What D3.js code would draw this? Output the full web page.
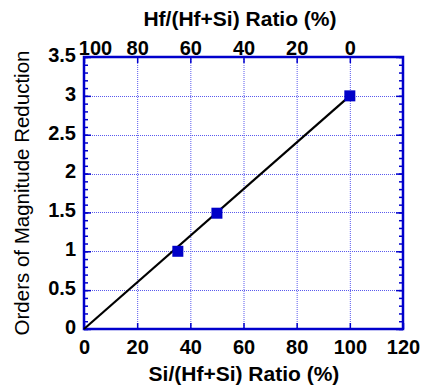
<!DOCTYPE html>
<html>
<head>
<meta charset="utf-8">
<script src="https://cdn.jsdelivr.net/npm/d3@7"></script>
<style>
  body { margin: 0; background: #fff; }
  text { font-family: "Liberation Sans", Arial, sans-serif; fill: #000; }
  .tick text { font-size: 20px; font-weight: bold; }
</style>
</head>
<body>
<svg width="424" height="390"></svg>
<script>
// data
var siRatio = [35.3, 50, 100];
var reduction = [1.0, 1.49, 3.0];
var fitX = [0, 100];
var fitY = [0, 3];
var xTicks = [0, 20, 40, 60, 80, 100, 120];
var topTicks = [100, 80, 60, 40, 20, 0];
var yTicks = [0, 0.5, 1, 1.5, 2, 2.5, 3, 3.5];

var blue = "#0000cc";
var gridBlue = "#5a5aee";
var margin = {top: 57, right: 21, bottom: 61, left: 84};
var svg = d3.select("svg"),
    width = +svg.attr("width") - margin.left - margin.right,
    height = +svg.attr("height") - margin.top - margin.bottom;
var g = svg.append("g").attr("transform", "translate(" + margin.left + "," + margin.top + ")");

var x = d3.scaleLinear().domain([0, 120]).range([0, width]),
    y = d3.scaleLinear().domain([0, 3.5]).range([height, 0]);
// top axis: Hf = 100 - Si
var xTop = d3.scaleLinear().domain([100, -20]).range([0, width]);

// grid
g.selectAll(".vgrid").data(xTicks.slice(1, -1)).enter().append("line")
  .attr("x1", function(d){ return x(d) + 0.5; }).attr("x2", function(d){ return x(d) + 0.5; })
  .attr("y1", 0).attr("y2", height)
  .attr("stroke", gridBlue).attr("stroke-width", 1).attr("stroke-dasharray", "1,1");
g.selectAll(".hgrid").data(yTicks.slice(1, -1)).enter().append("line")
  .attr("y1", function(d){ return Math.round(y(d)) + 0.5; }).attr("y2", function(d){ return Math.round(y(d)) + 0.5; })
  .attr("x1", 0).attr("x2", width)
  .attr("stroke", gridBlue).attr("stroke-width", 1).attr("stroke-dasharray", "1,1");

// axes
var minorY = d3.range(0, 35.01, 1).map(function(d){ return d / 10; });
function styleAxis(s){
  s.attr("font-size", null).attr("font-family", null);
  s.select(".domain").remove();
  s.selectAll(".tick line").attr("stroke", blue).attr("stroke-width", 1.5);
  s.selectAll(".tick text").attr("font-weight", "bold");
}
var bottomAxis = g.append("g").attr("transform", "translate(0," + height + ")")
  .call(d3.axisBottom(x).tickValues(xTicks).tickSizeInner(-6).tickSizeOuter(0).tickPadding(11));
styleAxis(bottomAxis);
var topAxis = g.append("g")
  .call(d3.axisTop(xTop).tickValues(topTicks).tickSizeInner(-6).tickSizeOuter(0).tickPadding(2));
styleAxis(topAxis);
// first top label sits right of its tick, clear of "3.5"
topAxis.selectAll(".tick text").filter(function(d){ return d === 100; }).attr("dx", 11);
var leftAxis = g.append("g")
  .call(d3.axisLeft(y).tickValues(yTicks).tickFormat(d3.format("")).tickSizeInner(-7).tickSizeOuter(0).tickPadding(8));
styleAxis(leftAxis);
leftAxis.selectAll(".tick text").attr("dy", "0.22em");
// minor ticks left and right
function plainTicks(s){
  s.select(".domain").remove();
  s.selectAll("line").attr("stroke", blue).attr("stroke-width", 1.5);
}
g.append("g").call(d3.axisLeft(y).tickValues(minorY).tickFormat("").tickSizeInner(-4).tickSizeOuter(0)).call(plainTicks);
g.append("g").attr("transform", "translate(" + width + ",0)")
  .call(d3.axisRight(y).tickValues(minorY).tickFormat("").tickSizeInner(-4).tickSizeOuter(0)).call(plainTicks);
g.append("g").attr("transform", "translate(" + width + ",0)")
  .call(d3.axisRight(y).tickValues(yTicks).tickFormat("").tickSizeInner(-7).tickSizeOuter(0)).call(plainTicks);

// frame
g.append("rect").attr("width", width).attr("height", height)
  .attr("fill", "none").attr("stroke", blue).attr("stroke-width", 2.5);

// fit line
var line = d3.line().x(function(d){ return x(d[0]); }).y(function(d){ return y(d[1]); });
g.append("path").datum(d3.zip(fitX, fitY)).attr("d", line)
  .attr("fill", "none").attr("stroke", "#000").attr("stroke-width", 2.2);

// markers
var ms = 11;
g.selectAll(".pt").data(d3.zip(siRatio, reduction)).enter().append("rect")
  .attr("x", function(d){ return x(d[0]) - ms / 2; })
  .attr("y", function(d){ return y(d[1]) - ms / 2; })
  .attr("width", ms).attr("height", ms)
  .attr("fill", "#0000c8");

// titles
svg.append("text").attr("x", 240).attr("y", 26)
  .attr("text-anchor", "middle").style("font-size", "21px").style("font-weight", "bold")
  .text("Hf/(Hf+Si) Ratio (%)");
svg.append("text").attr("x", 244).attr("y", 381)
  .attr("text-anchor", "middle").style("font-size", "21px").style("font-weight", "bold")
  .text("Si/(Hf+Si) Ratio (%)");
svg.append("text").attr("transform", "translate(29," + (margin.top + height / 2) + ") rotate(-90)")
  .attr("text-anchor", "middle").style("font-size", "20.5px")
  .text("Orders of Magnitude Reduction");
</script>
</body>
</html>
